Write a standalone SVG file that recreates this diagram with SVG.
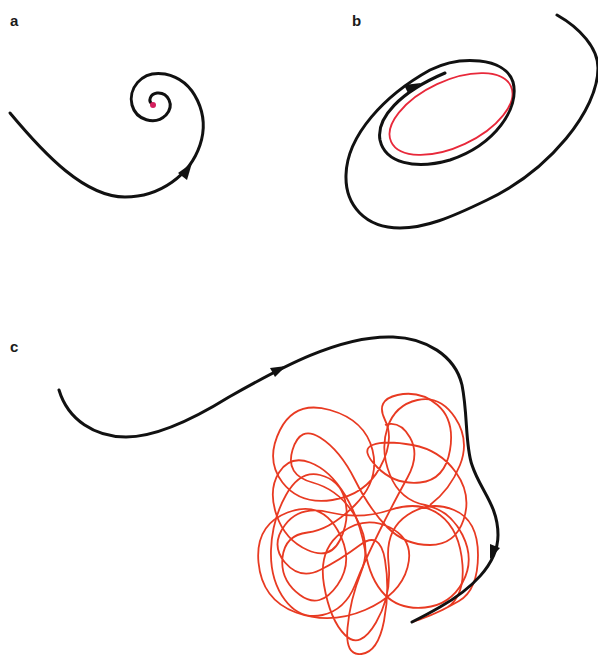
<svg xmlns="http://www.w3.org/2000/svg" width="598" height="655" viewBox="0 0 598 655">
<style>
.lbl{font-family:"Liberation Sans",Arial,sans-serif;font-weight:bold;font-size:15px;fill:#1a1a1a}
.traj{fill:none;stroke:#111;stroke-width:3;stroke-linecap:round;stroke-linejoin:round}
.head{fill:#111}
.att{fill:none;stroke:#e83a22;stroke-width:1.8;stroke-linejoin:round}
</style>
<rect width="598" height="655" fill="#fff"/>
<g id="panel-a">
<text class="lbl" x="10" y="26">a</text>
<path class="traj" d="M10,113 C45,155 85,197 125,197 C160,197 190,175 200,145 C210,115 195,80 165,74 C140,70 128,90 132,105 C136,120 155,126 166,115 C175,105 168,92 157,93 C150,94 148,101 152,104"/>
<polygon class="head" points="192,163 187,180 178,173"/>
<circle cx="153" cy="105" r="3" fill="#d4215e"/>
</g>
<g id="panel-b">
<text class="lbl" x="352" y="26">b</text>
<ellipse cx="451" cy="114" rx="66" ry="33" transform="rotate(-25 451 114)" fill="none" stroke="#e8283a" stroke-width="1.8"/>
<path class="traj" d="M557,15 C580,28 598,48 598,68 C598,110 550,170 487,200 C450,218 425,228 400,228 C365,228 345,205 346,175 C347,135 385,95 430,70 C460,55 505,57 513,82 C520,108 495,145 450,160 C415,170 385,163 380,140 C376,118 400,92 445,73"/>
<polygon class="head" points="421,83 408,93 404,85"/>
</g>
<g id="panel-c">
<text class="lbl" x="10" y="352">c</text>
<path class="att" d="M422.5,618.5 Q440,612 459,601 Q478,590 478,555 Q478,520 454,510 Q430,500 407.5,515 Q385,530 388.5,562.5 Q392,595 376,622.5 Q360,650 345,635 Q330,620 324,585 Q318,550 341.5,532.5 Q365,515 390,527.5 Q415,540 407.5,567.5 Q400,595 365,610 Q330,625 296,612.5 Q262,600 258.5,562.5 Q255,525 287.5,512.5 Q320,500 337.5,530 Q355,560 337.5,585 Q320,610 300,595 Q280,580 282.5,557.5 Q285,535 307.5,532.5 Q330,530 355,505 Q380,480 372.5,450 Q365,420 330,410 Q295,400 280,430 Q265,460 282.5,482.5 Q300,505 332.5,500 Q365,495 380,467.5 Q395,440 385,420 Q375,400 397.5,395 Q420,390 437.5,405 Q455,420 450,450 Q445,480 420,482.5 Q395,485 377.5,467.5 Q360,450 372.5,445 Q385,440 412.5,445 Q440,450 456,472.5 Q472,495 463.5,520 Q455,545 430,545 Q405,545 387.5,527.5 Q370,510 355,480 Q340,450 320,437.5 Q300,425 292.5,450 Q285,475 312.5,482.5 Q340,490 356,517.5 Q372,545 361,572.5 Q350,600 347.5,628 Q345,656 361.5,654 Q378,652 384,621 Q390,590 385,560 Q380,530 360,545 Q340,560 320,570 Q300,580 285,562.5 Q270,545 285,525 Q300,505 330,512.5 Q360,520 390,510 Q420,500 440,515 Q460,530 462.5,565 Q465,600 442.5,610 Q420,620 412,622"/>
<path class="att" d="M430,505 Q450,490 460,465 Q470,440 455,417.5 Q440,395 417.5,400 Q395,405 387.5,427.5 Q380,450 390,475 Q400,500 425,505 Q450,510 462.5,535 Q475,560 462.5,582.5 Q450,605 425,607.5 Q400,610 385,595 Q370,580 365,550 Q360,520 345,495 Q330,470 310,462.5 Q290,455 279,472.5 Q268,490 276.5,515 Q285,540 307.5,550 Q330,560 340,540 Q350,520 345,500 Q340,480 320,475 Q300,470 286,495 Q272,520 271,550 Q270,580 285,600 Q300,620 322.5,615 Q345,610 355,585 Q365,560 380,530 Q395,500 407.5,477.5 Q420,455 410,437.5 Q400,420 385,425"/>
<path class="traj" d="M59,390 C68,420 95,437 126,437 C160,437 200,415 229,397 C280,368 340,335 393,337 C425,338 455,355 462,385 C468,415 465,445 472,465 C480,490 498,505 498,535 C498,565 470,590 440,607 C428,614 418,619 412,622"/>
<polygon class="head" points="286,366 275,377 270,368"/>
<polygon class="head" points="490,559 500,548 490,544"/>
</g>
</svg>
